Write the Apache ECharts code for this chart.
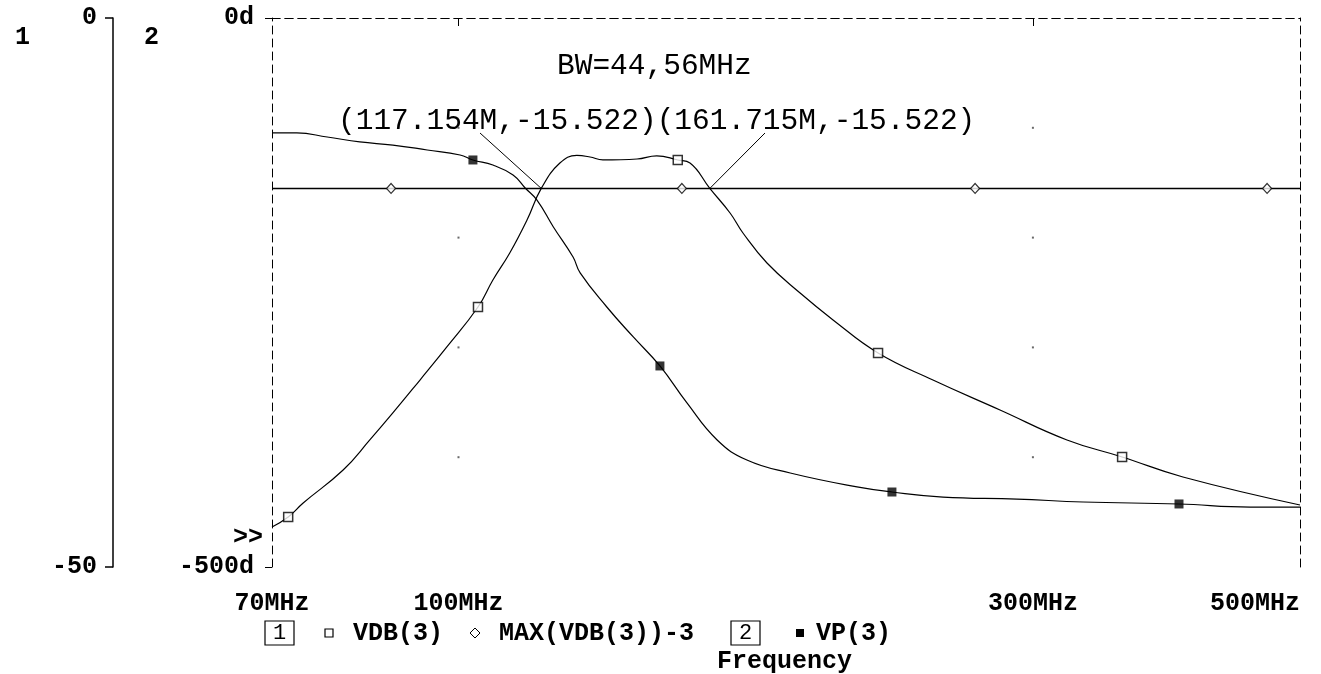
<!DOCTYPE html>
<html>
<head>
<meta charset="utf-8">
<script src="https://cdn.jsdelivr.net/npm/echarts@6/dist/echarts.min.js"></script>
<style>html,body{margin:0;padding:0;background:#fff;}#c{width:1321px;height:674px;}</style>
</head>
<body>
<div id="c"></div>
<script>
// ---- data (frequency in MHz) ----
var vdbFreq = [70, 72.2, 74.3, 80.2, 84.4, 88.2, 92.9, 97.8, 103.8, 106.8, 110.3, 114.0, 117.154, 121.4, 125.4, 128.6, 131.8, 140.7, 146.1, 152.1, 155.7, 161.715, 168.1, 172.3, 180.4, 192.2, 204.7, 223.1, 247.8, 281.7, 320.2, 355.8, 399.7, 500];
var vdbVal  = [-46.36, -45.45, -44.17, -41.17, -38.43, -35.97, -32.97, -29.96, -26.32, -23.86, -21.40, -18.40, -15.52, -13.21, -12.52, -12.66, -12.93, -12.84, -12.55, -12.93, -13.21, -15.52, -17.76, -19.58, -22.31, -25.05, -27.50, -30.51, -32.97, -35.70, -38.43, -39.98, -41.80, -44.35];
var vpFreq = [70, 73.4, 77.8, 82.8, 88.2, 94.2, 100.3, 102.8, 106.8, 111.0, 113.6, 116.2, 119.9, 124.5, 126.2, 132.8, 139.7, 147.0, 154.8, 164.0, 173.6, 188.6, 214.3, 229.1, 252.6, 291.0, 330.2, 396.7, 454.5, 500];
var vpVal  = [-104.7, -104.7, -108.4, -112.9, -115.7, -120.2, -124.8, -129.3, -133.9, -143.0, -154.8, -165.8, -190.3, -217.7, -232.2, -263.2, -290.5, -316.9, -350.6, -384.3, -402.6, -414.4, -427.1, -431.7, -436.3, -438.1, -440.8, -442.6, -445.4, -445.4];
var maxLevel = -15.522;
var maxFreq = [70, 500];
var vdbMarkFreq = [72.2, 103.8, 152.1, 223.1, 355.8];
var vdbMarkVal  = [-45.45, -26.32, -12.93, -30.51, -39.98];
var vpMarkFreq  = [102.8, 147.0, 229.1, 396.7];
var vpMarkVal   = [-129.3, -316.9, -431.7, -442.6];
var maxMarkFreq = [87.9, 153.3, 268.6, 469.5];
var xLabelValues = [70, 100, 300, 500];
var xTickValues = [100, 300];
var gridDotFreq = [100, 300];
var gridDotDb = [-10, -20, -30, -40];
var cursorA = [117.154, -15.522];
var cursorB = [161.715, -15.522];
var bwText = 'BW=44,56MHz';

function zip(a, b) { return a.map(function (v, i) { return [v, b[i]]; }); }
var gridDots = [];
gridDotFreq.forEach(function (f) { gridDotDb.forEach(function (d) { gridDots.push([f, d]); }); });

var BOLDFONT = 'Liberation Mono';
var DASH = [8, 5];

var chart = echarts.init(document.getElementById('c'), null, { renderer: 'canvas' });
var option = {
  animation: false,
  backgroundColor: '#fff',
  grid: { left: 272, right: 21, top: 18, bottom: 107, containLabel: false },
  xAxis: [
    {
      type: 'log', logBase: 10, min: 70, max: 500, position: 'bottom',
      axisLine: { show: true, lineStyle: { color: '#000', width: 1, type: DASH } },
      axisTick: { show: true, customValues: xTickValues, length: 8, lineStyle: { color: '#000' } },
      axisLabel: {
        customValues: xLabelValues, margin: 24, alignMaxLabel: 'right',
        formatter: function (v) { return Math.round(v) + 'MHz'; },
        fontFamily: BOLDFONT, fontWeight: 'bold', fontSize: 25, color: '#000'
      },
      splitLine: { show: false }, minorTick: { show: false }
    },
    {
      type: 'log', logBase: 10, min: 70, max: 500, position: 'top',
      axisLine: { show: true, lineStyle: { color: '#000', width: 1, type: DASH } },
      axisTick: { show: false }, axisLabel: { show: false }, splitLine: { show: false }
    }
  ],
  yAxis: [
    {
      type: 'value', min: -50, max: 0, interval: 50, position: 'left', offset: 159,
      axisLine: { show: true, lineStyle: { color: '#000', width: 1.5 } },
      axisTick: { show: true, length: 8, lineStyle: { color: '#000', width: 1.5 } },
      axisLabel: { margin: 16, fontFamily: BOLDFONT, fontWeight: 'bold', fontSize: 25, color: '#000' },
      splitLine: { show: false }
    },
    {
      type: 'value', min: -500, max: 0, interval: 500, position: 'left', offset: 0,
      axisLine: { show: true, lineStyle: { color: '#000', width: 1, type: DASH } },
      axisTick: { show: true, length: 7, lineStyle: { color: '#000' } },
      axisLabel: { margin: 18, formatter: function (v) { return v + 'd'; }, fontFamily: BOLDFONT, fontWeight: 'bold', fontSize: 25, color: '#000' },
      splitLine: { show: false }
    },
    {
      type: 'value', min: 0, max: 1, position: 'right',
      axisLine: { show: true, lineStyle: { color: '#000', width: 1, type: DASH } },
      axisTick: { show: false }, axisLabel: { show: false }, splitLine: { show: false }
    }
  ],
  series: [
    {
      name: 'grid', type: 'scatter', xAxisIndex: 0, yAxisIndex: 0, data: gridDots,
      symbol: 'rect', symbolSize: 2, itemStyle: { color: '#444' }, silent: true, z: 1
    },
    {
      name: 'VDB(3)', type: 'line', xAxisIndex: 0, yAxisIndex: 0, data: zip(vdbFreq, vdbVal),
      showSymbol: false, smooth: 0.45, lineStyle: { color: '#000', width: 1.2 }, z: 3
    },
    {
      name: 'MAX(VDB(3))-3', type: 'line', xAxisIndex: 0, yAxisIndex: 0,
      data: maxFreq.map(function (f) { return [f, maxLevel]; }),
      showSymbol: false, lineStyle: { color: '#000', width: 1.5 }, z: 3,
      markLine: {
        silent: true, symbol: 'none', animation: false,
        lineStyle: { color: '#000', width: 1, type: 'solid' }, label: { show: false },
        data: [
          [{ x: 480, y: 133 }, { coord: cursorA }],
          [{ x: 765, y: 133 }, { coord: cursorB }]
        ]
      }
    },
    {
      name: 'VP(3)', type: 'line', xAxisIndex: 0, yAxisIndex: 1, data: zip(vpFreq, vpVal),
      showSymbol: false, smooth: 0.45, lineStyle: { color: '#000', width: 1.2 }, z: 3
    },
    {
      name: 'VDB marks', type: 'scatter', xAxisIndex: 0, yAxisIndex: 0, data: zip(vdbMarkFreq, vdbMarkVal),
      symbol: 'rect', symbolSize: 9, itemStyle: { color: '#fff', borderColor: '#000', borderWidth: 1.5 }, z: 5
    },
    {
      name: 'MAX marks', type: 'scatter', xAxisIndex: 0, yAxisIndex: 0,
      data: maxMarkFreq.map(function (f) { return [f, maxLevel]; }),
      symbol: 'diamond', symbolSize: [9, 10], itemStyle: { color: '#fff', borderColor: '#000', borderWidth: 1.2 }, z: 5
    },
    {
      name: 'VP marks', type: 'scatter', xAxisIndex: 0, yAxisIndex: 1, data: zip(vpMarkFreq, vpMarkVal),
      symbol: 'rect', symbolSize: 9, itemStyle: { color: '#000' }, z: 5
    }
  ],
  graphic: [
    { type: 'text', left: 15, top: 25, style: { text: '1', font: 'bold 25px "Liberation Mono"', fill: '#000' } },
    { type: 'text', left: 144, top: 25, style: { text: '2', font: 'bold 25px "Liberation Mono"', fill: '#000' } },
    { type: 'text', left: 233, top: 525, style: { text: '>>', font: 'bold 25px "Liberation Mono"', fill: '#000' } },
    { type: 'text', left: 557, top: 51, style: { text: bwText, font: '29.5px "Liberation Mono"', fill: '#000' } },
    { type: 'text', left: 338, top: 106, style: {
        text: '(' + cursorA[0].toFixed(3) + 'M,' + cursorA[1].toFixed(3) + ')(' + cursorB[0].toFixed(3) + 'M,' + cursorB[1].toFixed(3) + ')',
        font: '29.5px "Liberation Mono"', fill: '#000' } },
    // legend row
    { type: 'rect', shape: { x: 265, y: 621, width: 29, height: 24 }, style: { fill: '#fff', stroke: '#000', lineWidth: 1.2 } },
    { type: 'text', x: 279.5, y: 633, style: { text: '1', font: '22px "Liberation Mono"', fill: '#000', align: 'center', verticalAlign: 'middle' } },
    { type: 'rect', shape: { x: 325, y: 629, width: 8, height: 8 }, style: { fill: '#fff', stroke: '#000', lineWidth: 1.2 } },
    { type: 'text', x: 353, y: 634, style: { text: 'VDB(3)', font: 'bold 25px "Liberation Mono"', fill: '#000', verticalAlign: 'middle' } },
    { type: 'polygon', shape: { points: [[475, 628], [480, 633], [475, 638], [470, 633]] }, style: { fill: '#fff', stroke: '#000', lineWidth: 1 } },
    { type: 'text', x: 499, y: 634, style: { text: 'MAX(VDB(3))-3', font: 'bold 25px "Liberation Mono"', fill: '#000', verticalAlign: 'middle' } },
    { type: 'rect', shape: { x: 731, y: 621, width: 29, height: 24 }, style: { fill: '#fff', stroke: '#000', lineWidth: 1.2 } },
    { type: 'text', x: 745.5, y: 633, style: { text: '2', font: '22px "Liberation Mono"', fill: '#000', align: 'center', verticalAlign: 'middle' } },
    { type: 'rect', shape: { x: 796, y: 629, width: 8, height: 8 }, style: { fill: '#000' } },
    { type: 'text', x: 816, y: 634, style: { text: 'VP(3)', font: 'bold 25px "Liberation Mono"', fill: '#000', verticalAlign: 'middle' } },
    { type: 'text', x: 717, y: 662, style: { text: 'Frequency', font: 'bold 25px "Liberation Mono"', fill: '#000', verticalAlign: 'middle' } }
  ]
};
chart.setOption(option);
</script>
</body>
</html>
